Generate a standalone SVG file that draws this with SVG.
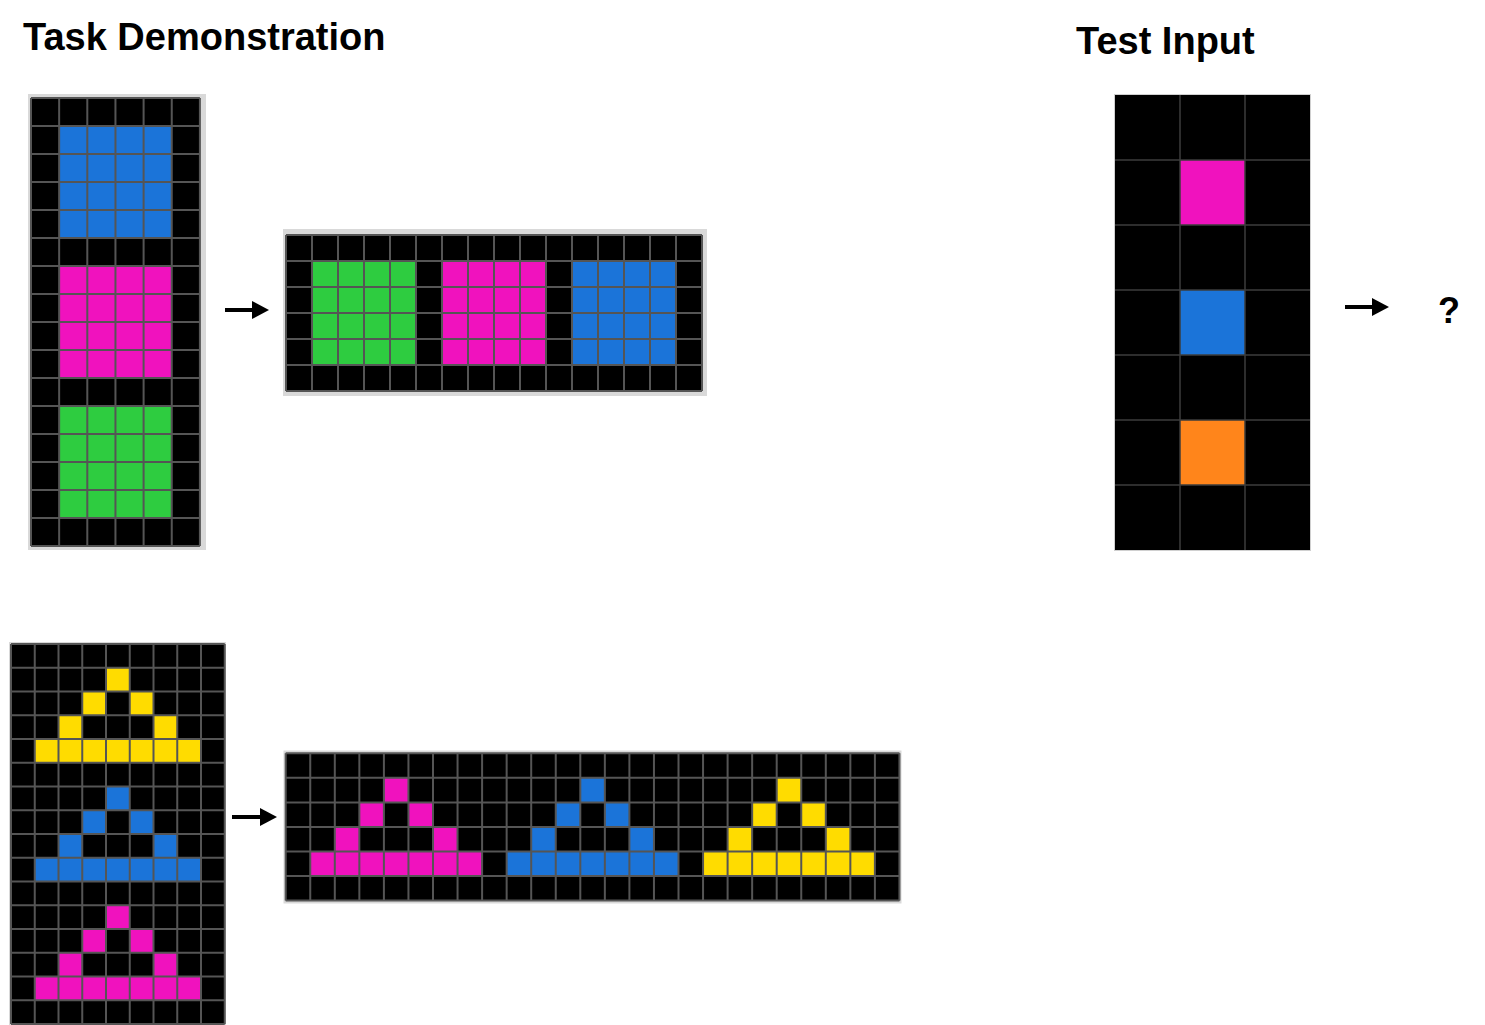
<svg xmlns="http://www.w3.org/2000/svg" width="1485" height="1025" viewBox="0 0 1485 1025">
<style>
.t{font-family:"Liberation Sans",Arial,sans-serif;font-weight:bold;fill:#000}
.bg{fill:#000}
.gl{fill:none;stroke:#555;stroke-width:2;vector-effect:non-scaling-stroke}
.gt{fill:none;stroke:#3c3c3c;stroke-width:1.5;vector-effect:non-scaling-stroke}
.fr{fill:#d9d9d9}
.B{fill:#1b74d9}.M{fill:#f012be}.G{fill:#2ecc40}.Y{fill:#ffdc00}.O{fill:#ff851b}
.arr{stroke:#000;stroke-width:4;fill:none}
</style>
<defs>
<path id="tri" d="M3,0h1v1h-1z M2,1h1v1h-1z M4,1h1v1h-1z M1,2h1v1h-1z M5,2h1v1h-1z M0,3h7v1h-7z"/>
<marker id="ah" markerUnits="userSpaceOnUse" markerWidth="18" markerHeight="18" refX="8" refY="9" orient="auto">
<path d="M0,0 L17,9 L0,18 z" fill="#000"/>
</marker>
</defs>
<rect width="1485" height="1025" fill="#fff"/>

<text class="t" x="23" y="50" font-size="38">Task Demonstration</text>
<text class="t" x="1076" y="54" font-size="38">Test Input</text>

<g id="demo1-input">
<rect class="fr" x="28" y="94" width="178" height="456"/>
<g transform="translate(31,98) scale(28.15,28)">
<rect class="bg" width="6" height="16"/>
<rect class="B" x="1" y="1" width="4" height="4"/>
<rect class="M" x="1" y="6" width="4" height="4"/>
<rect class="G" x="1" y="11" width="4" height="4"/>
<path class="gl" d="M0,0V16M1,0V16M2,0V16M3,0V16M4,0V16M5,0V16M6,0V16M0,0H6M0,1H6M0,2H6M0,3H6M0,4H6M0,5H6M0,6H6M0,7H6M0,8H6M0,9H6M0,10H6M0,11H6M0,12H6M0,13H6M0,14H6M0,15H6M0,16H6"/>
</g>
</g>

<g id="demo1-output">
<rect class="fr" x="283" y="229" width="424" height="167"/>
<g transform="translate(286,235) scale(26,26)">
<rect class="bg" width="16" height="6"/>
<rect class="G" x="1" y="1" width="4" height="4"/>
<rect class="M" x="6" y="1" width="4" height="4"/>
<rect class="B" x="11" y="1" width="4" height="4"/>
<path class="gl" d="M0,0V6M1,0V6M2,0V6M3,0V6M4,0V6M5,0V6M6,0V6M7,0V6M8,0V6M9,0V6M10,0V6M11,0V6M12,0V6M13,0V6M14,0V6M15,0V6M16,0V6M0,0H16M0,1H16M0,2H16M0,3H16M0,4H16M0,5H16M0,6H16"/>
</g>
</g>

<g id="demo2-input">
<rect class="fr" x="9" y="642" width="217" height="384"/>
<g transform="translate(11,644) scale(23.75)">
<rect class="bg" width="9" height="16"/>
<use href="#tri" x="1" y="1" class="Y"/>
<use href="#tri" x="1" y="6" class="B"/>
<use href="#tri" x="1" y="11" class="M"/>
<path class="gl" d="M0,0V16M1,0V16M2,0V16M3,0V16M4,0V16M5,0V16M6,0V16M7,0V16M8,0V16M9,0V16M0,0H9M0,1H9M0,2H9M0,3H9M0,4H9M0,5H9M0,6H9M0,7H9M0,8H9M0,9H9M0,10H9M0,11H9M0,12H9M0,13H9M0,14H9M0,15H9M0,16H9"/>
</g>
</g>

<g id="demo2-output">
<rect class="fr" x="283.5" y="750.5" width="618" height="153"/>
<g transform="translate(285.7,753.3) scale(24.55)">
<rect class="bg" width="25" height="6"/>
<use href="#tri" x="1" y="1" class="M"/>
<use href="#tri" x="9" y="1" class="B"/>
<use href="#tri" x="17" y="1" class="Y"/>
<path class="gl" d="M0,0V6M1,0V6M2,0V6M3,0V6M4,0V6M5,0V6M6,0V6M7,0V6M8,0V6M9,0V6M10,0V6M11,0V6M12,0V6M13,0V6M14,0V6M15,0V6M16,0V6M17,0V6M18,0V6M19,0V6M20,0V6M21,0V6M22,0V6M23,0V6M24,0V6M25,0V6M0,0H25M0,1H25M0,2H25M0,3H25M0,4H25M0,5H25M0,6H25"/>
</g>
</g>

<g id="test-input">
<rect x="1114" y="94" width="197" height="457" fill="#d0d0d0"/>
<g transform="translate(1115,95) scale(65)">
<rect class="bg" width="3" height="7"/>
<rect class="M" x="1" y="1" width="1" height="1"/>
<rect class="B" x="1" y="3" width="1" height="1"/>
<rect class="O" x="1" y="5" width="1" height="1"/>
<path class="gt" d="M1,0V7M2,0V7M0,1H3M0,2H3M0,3H3M0,4H3M0,5H3M0,6H3"/>
</g>
</g>

<g id="test-output">
<text class="t" x="1449" y="323" font-size="36" text-anchor="middle">?</text>
</g>

<g id="connectors">
<line class="arr" x1="225" y1="310" x2="260" y2="310" marker-end="url(#ah)"/>
<line class="arr" x1="232" y1="817" x2="268" y2="817" marker-end="url(#ah)"/>
<line class="arr" x1="1345" y1="307" x2="1380" y2="307" marker-end="url(#ah)"/>
</g>
</svg>
